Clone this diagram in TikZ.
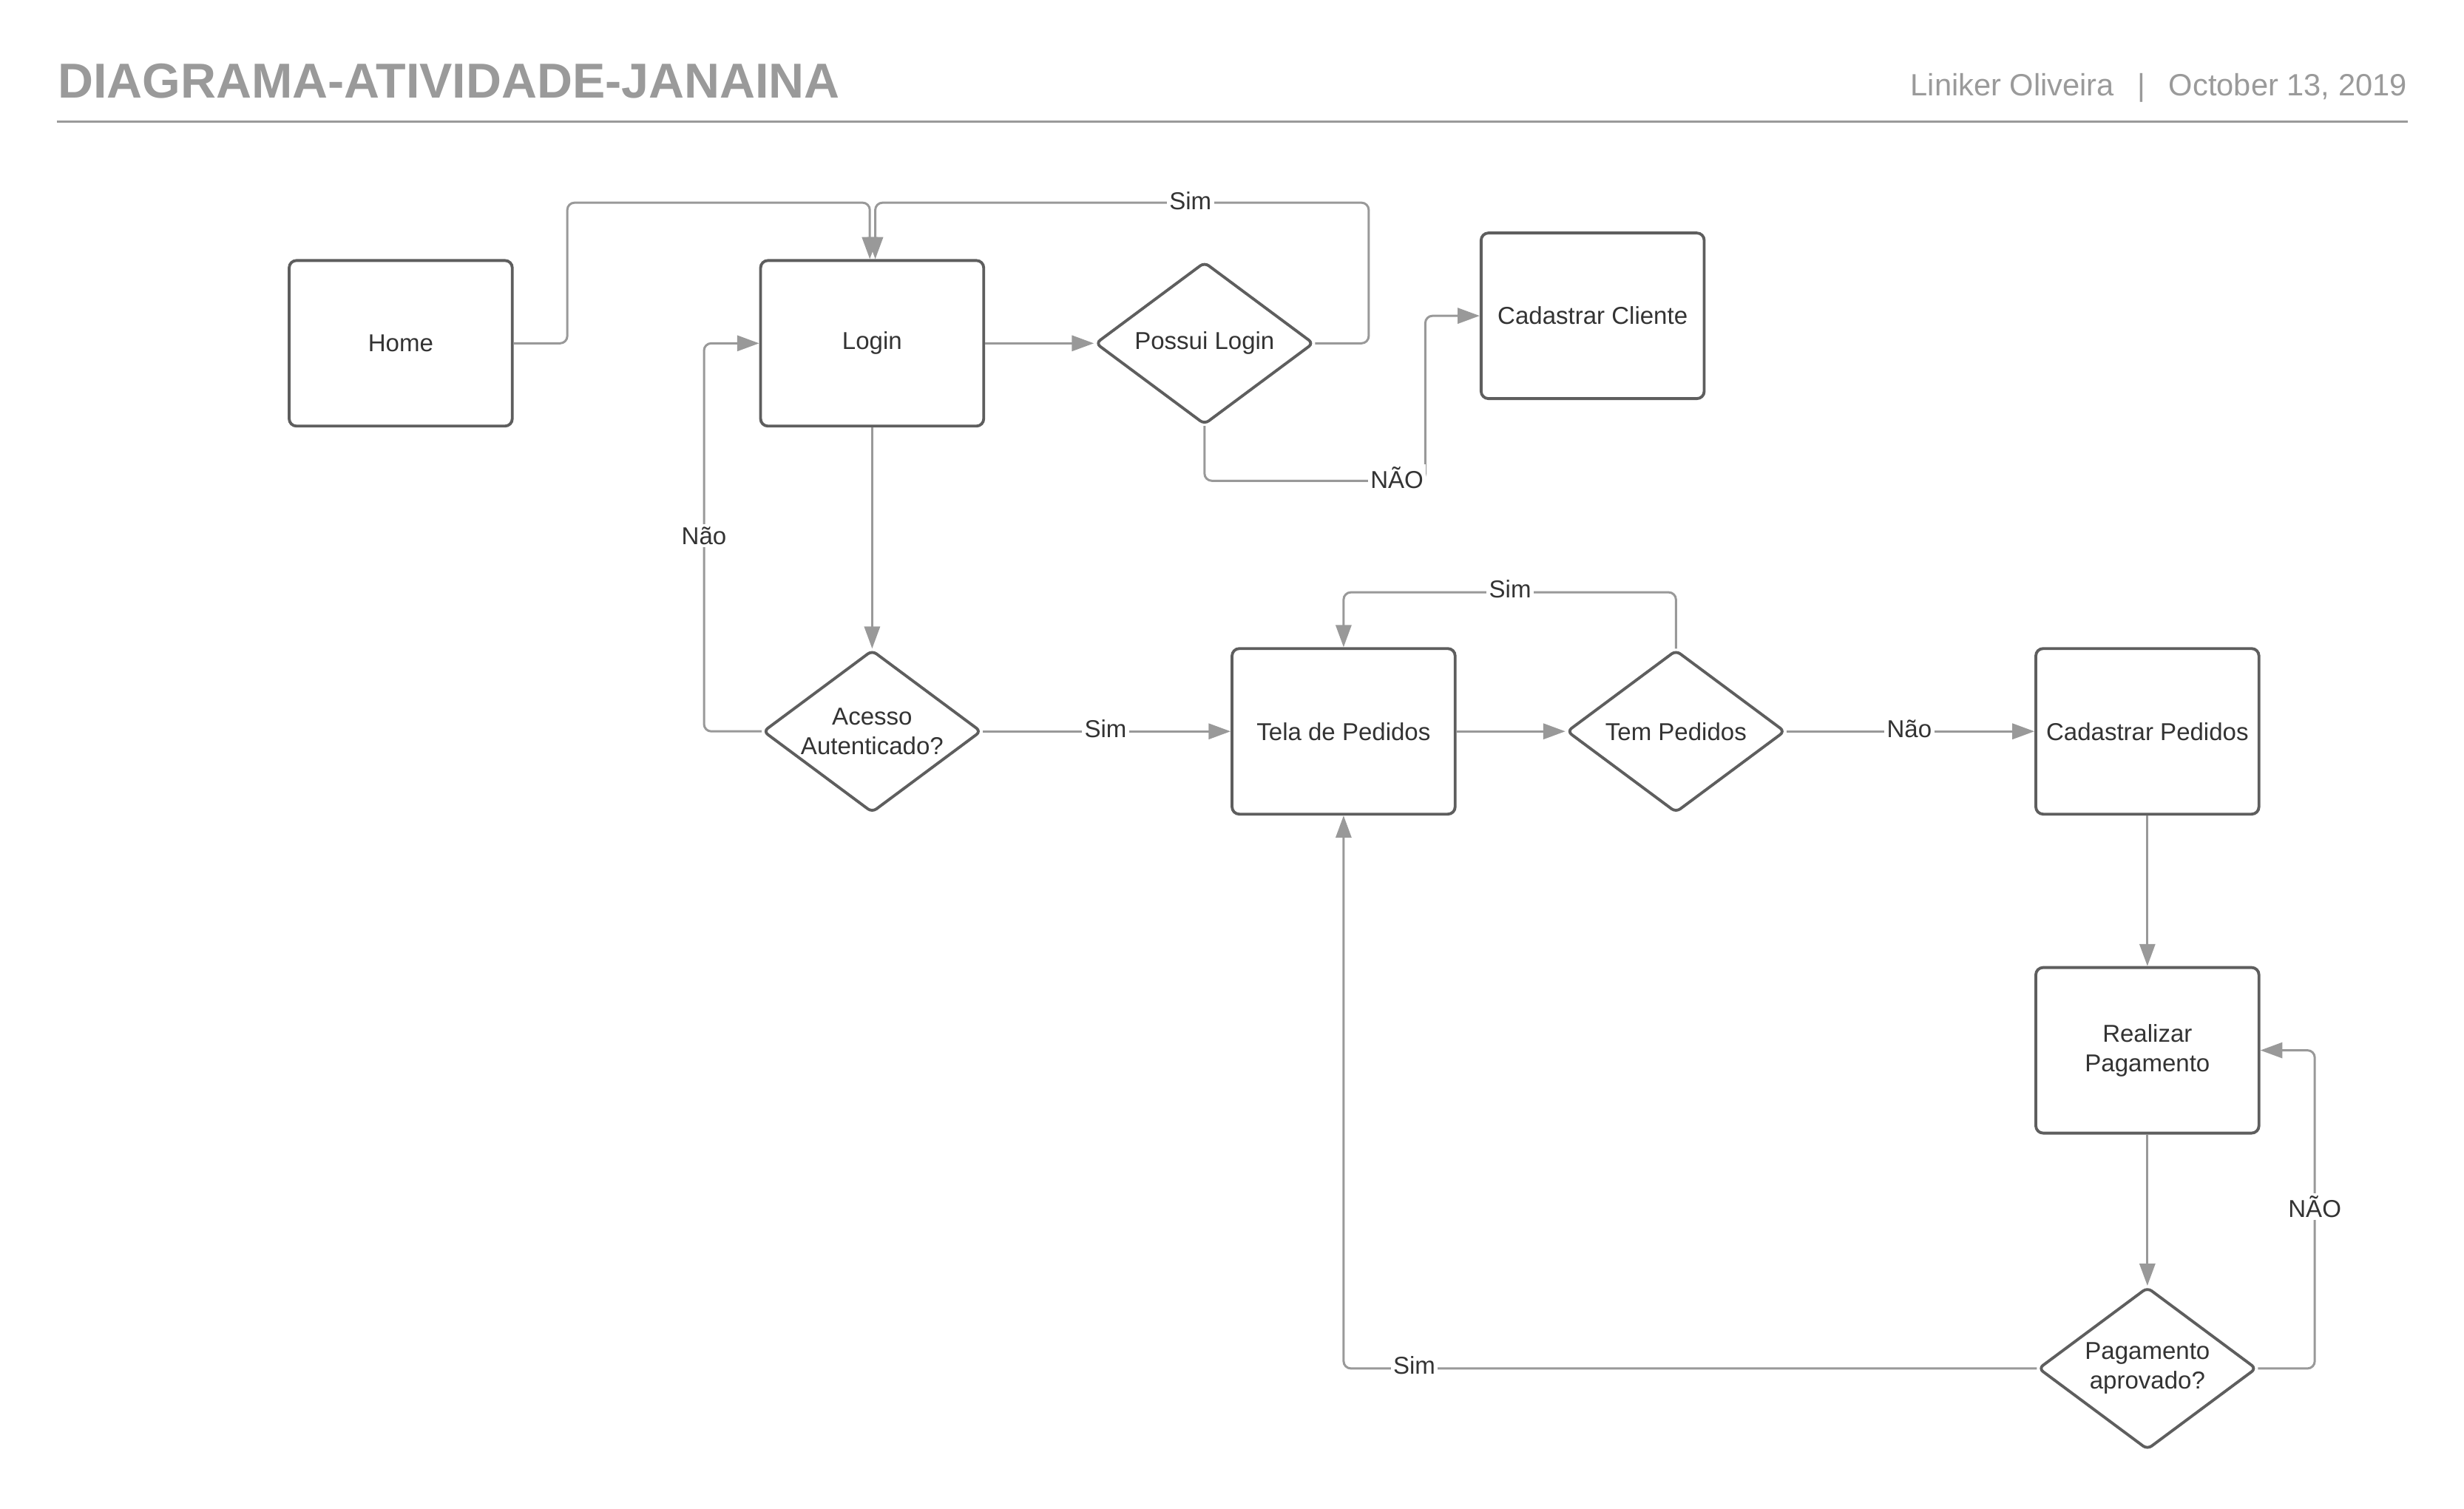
\documentclass[tikz,border=0pt]{standalone}
\usepackage{fontspec}
\setmainfont{Liberation Sans}
\usetikzlibrary{shapes.geometric,arrows.meta}

\definecolor{cinzaLinha}{HTML}{999999}
\definecolor{cinzaBorda}{HTML}{5E5E5E}
\definecolor{cinzaTexto}{HTML}{333333}
\definecolor{cinzaTitulo}{HTML}{9A9A9A}

\tikzset{
  caixa/.style={draw=cinzaBorda, line width=1.1pt, rounded corners=2.8pt, fill=white,
    minimum width=3.0175cm, minimum height=2.24cm, inner sep=1pt, align=center,
    text=cinzaTexto, font=\fontsize{9.4}{11.4}\selectfont},
  decisao/.style={diamond, draw=cinzaBorda, line width=1.1pt, rounded corners=2pt, fill=white,
    minimum width=2.954cm, minimum height=2.2cm, shape aspect=1.34, inner sep=0pt,
    align=center, text=cinzaTexto, font=\fontsize{9.4}{11.4}\selectfont},
  seta/.style={draw=cinzaLinha, line width=0.85pt, rounded corners=2.8pt,
    -{Triangle[length=8.5pt,width=6pt]}},
  rotulo/.style={fill=white, inner sep=1pt, text=cinzaTexto,
    font=\fontsize{9.4}{11.4}\selectfont}
}

\begin{document}
\begin{tikzpicture}[x=0.02125cm,y=-0.02125cm]
            \useasboundingbox (0,0) rectangle (1568,960);

            % Header: title, author and date, rule
            \node[anchor=base west, inner sep=0pt, text=cinzaTitulo,
              font=\bfseries\fontsize{18.9}{22}\selectfont] (titulo) at (36.5,62.5) {DIAGRAMA-ATIVIDADE-JANAINA};
            \node[anchor=base east, inner sep=0pt, text=cinzaTitulo,
              font=\fontsize{11.85}{14}\selectfont] (autor) at (1532,61) {Liniker Oliveira\hspace{9pt}|\hspace{9pt}October 13, 2019};
            \draw[cinzaTitulo, line width=1pt] (36,77.5) -- (1532,77.5);

            % Activities
            \node[caixa] (home) at (255,218.5) {Home};
            \node[caixa] (login) at (555,218.5) {Login};
            \node[caixa] (cliente) at (1013.5,201) {Cadastrar Cliente};
            \node[caixa] (tela) at (855,465.5) {Tela de Pedidos};
            \node[caixa] (cadped) at (1366.5,465.5) {Cadastrar Pedidos};
            \node[caixa] (pagar) at (1366.5,668.5) {Realizar\\Pagamento};

            % Decisions
            \node[decisao] (possui) at (766.5,218.5) {Possui Login};
            \node[decisao] (acesso) at (555,465.5) {Acesso\\Autenticado?};
            \node[decisao] (tem) at (1066.5,465.5) {Tem Pedidos};
            \node[decisao] (aprovado) at (1366.5,871) {Pagamento\\aprovado?};

            % Flows
            \draw[seta] (home.east) -| (361,129) -| ([xshift=-0.9pt]login.north);
            \draw[seta] (possui.east) -| (871,129) -| ([xshift=1.2pt]login.north);
            \draw[seta] (login.east) -- (possui.west);
            \draw[seta] (possui.south) |- (907,306) |- (cliente.west);
            \draw[seta] (login.south) -- (acesso.north);
            \draw[seta] (acesso.west) -| (448,341) |- (login.west);
            \draw[seta] (acesso.east) -- (tela.west);
            \draw[seta] (tela.east) -- (tem.west);
            \draw[seta] (tem.north) |- (961,377) -| (tela.north);
            \draw[seta] (tem.east) -- (cadped.west);
            \draw[seta] (cadped.south) -- (pagar.north);
            \draw[seta] (pagar.south) -- (aprovado.north);
            \draw[seta] (aprovado.east) -| (1473,768) |- (pagar.east);
            \draw[seta] (aprovado.west) -| (tela.south);

            % Flow labels
            \node[rotulo] (simPossui) at (757.5,128) {Sim};
            \node[rotulo] (naoPossui) at (889,304) {NÃO};
            \node[rotulo] (naoAcesso) at (448,341) {Não};
            \node[rotulo] (simAcesso) at (703.5,464) {Sim};
            \node[rotulo] (simTem) at (961,375) {Sim};
            \node[rotulo] (naoTem) at (1215,464) {Não};
            \node[rotulo] (naoAprovado) at (1473,768) {NÃO};
            \node[rotulo] (simAprovado) at (900,869) {Sim};
\end{tikzpicture}
\end{document}
